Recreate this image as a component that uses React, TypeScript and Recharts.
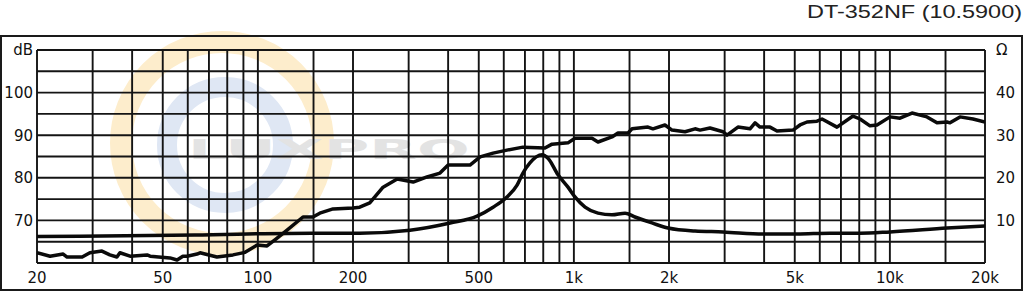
import React from 'react';
import { LineChart, Line, XAxis, YAxis, CartesianGrid } from 'recharts';

// SPL response (left axis, dB)
const splFreq = [20, 22, 24.2, 24.9, 27.8, 29.4, 32.1, 34, 35.8, 36.6, 39.4, 44.6, 45.6, 52.7, 55.5, 57.9, 59.7, 64.2, 65.6, 74.2, 83.4, 91.1, 99.4, 106.9, 114, 123.7, 138.9, 149.4, 157, 172.9, 200, 210, 226, 249, 276, 310, 343, 377, 400, 469, 505, 555, 614, 690, 810, 853, 958, 1008, 1141, 1192, 1320, 1379, 1484, 1528, 1716, 1779, 1942, 2044, 2247, 2418, 2508, 2696, 2965, 3052, 3306, 3609, 3744, 3882, 4174, 4394, 4937, 5196, 5468, 5880, 6100, 6802, 7644, 8044, 8652, 9104, 10012, 10766, 11750, 13106, 14096, 15162, 15498, 16668, 18324, 20000];
const splDb = [62.4, 61.6, 62.1, 61.4, 61.4, 62.4, 62.8, 61.9, 61.4, 62.4, 61.6, 61.9, 61.6, 61.2, 60.7, 61.6, 61.6, 62.1, 62.4, 61.4, 61.9, 62.5, 64.2, 64.0, 65.6, 67.7, 70.8, 70.8, 71.7, 72.7, 72.9, 73.1, 74.1, 77.8, 79.7, 79.0, 80.2, 81.1, 83.0, 83.0, 84.9, 85.8, 86.5, 87.2, 87.0, 87.9, 88.2, 89.3, 89.3, 88.4, 89.6, 90.5, 90.5, 91.5, 91.9, 91.5, 92.4, 91.2, 90.8, 91.5, 91.2, 91.7, 90.8, 90.0, 91.9, 91.5, 92.9, 91.9, 91.9, 91.0, 91.2, 92.4, 93.1, 93.3, 93.8, 91.9, 94.5, 93.8, 92.2, 92.4, 94.3, 94.0, 95.2, 94.3, 92.9, 93.1, 92.9, 94.3, 93.8, 93.1];

// Impedance (right axis, ohm)
const impFreq = [20, 63, 148, 210, 303, 406, 494, 555, 614, 661, 690, 726, 793, 828, 891, 958, 1008, 1085, 1192, 1320, 1452, 1561, 1767, 1985, 2418, 2965, 3969, 5082, 6463, 8044, 10012, 15162, 20000];
const impOhm = [6.2, 6.6, 7.0, 7.0, 7.7, 9.4, 11.0, 13.1, 15.5, 18.3, 21.1, 23.5, 25.4, 24.6, 20.7, 17.8, 15.5, 13.1, 11.7, 11.3, 11.7, 10.8, 9.4, 8.2, 7.5, 7.3, 6.8, 6.8, 7.0, 7.0, 7.3, 8.2, 8.7];

const gridFreqs = [20, 30, 40, 50, 60, 70, 80, 90, 100, 150, 200, 300, 400, 500, 600, 700, 800, 900, 1000, 1500, 2000, 3000, 4000, 5000, 6000, 7000, 8000, 9000, 10000, 15000, 20000];
const freqLabelValues = [20, 50, 100, 200, 500, 1000, 2000, 5000, 10000, 20000];
const freqLabelTexts = ['20', '50', '100', '200', '500', '1k', '2k', '5k', '10k', '20k'];
const dbTicks = [60, 65, 70, 75, 80, 85, 90, 95, 100, 105, 110];
const ohmTicks = [0, 5, 10, 15, 20, 25, 30, 35, 40, 45, 50];
const title = 'DT-352NF (10.5900)';

const splData = splFreq.map((f, i) => ({ f, v: splDb[i] }));
const impData = impFreq.map((f, i) => ({ f, v: impOhm[i] }));

const tickStyle = { fontFamily: '"DejaVu Sans", Verdana, sans-serif', fontSize: 15, fill: '#111' };

const fmtFreq = (v: number) => {
  const i = freqLabelValues.indexOf(v);
  return i >= 0 ? freqLabelTexts[i] : '';
};
const fmtDb = (v: number) => (v === 110 ? 'dB' : v % 10 === 0 && v > 60 ? String(v) : '');
const fmtOhm = (v: number) => (v === 50 ? 'Ω' : v % 10 === 0 && v > 0 ? String(v) : '');

export default function App() {
  return (
    <div style={{ position: 'absolute', left: 0, top: 0, width: 1024, height: 292, background: '#fff', overflow: 'hidden' }}>
      <svg width={1024} height={292} style={{ position: 'absolute', left: 0, top: 0 }}>
        <circle cx={222} cy={143} r={101} fill="none" stroke="#fdedcc" strokeWidth={22} />
        <circle cx={225} cy={145} r={58} fill="none" stroke="#dfe7f4" strokeWidth={20} />
        <text transform="translate(188,159) scale(2.3,1)"
          style={{ fontFamily: '"DejaVu Sans", sans-serif', fontWeight: 'bold', fontSize: 27, fill: '#e3e3e3' }}>LUXPRO</text>
        <rect x={1} y={36} width={1021} height={254} fill="none" stroke="#1a1a1a" strokeWidth={2} />
        <text x={807} y={18} textLength={215} lengthAdjust="spacingAndGlyphs"
          style={{ fontFamily: '"Liberation Sans", Arial, sans-serif', fontSize: 18, fill: '#222' }}>{title}</text>
      </svg>
      <div style={{ position: 'absolute', left: 0, top: 0 }}>
        <LineChart width={1024} height={292} margin={{ top: 50, right: 0, bottom: 0, left: 0 }}>
          <CartesianGrid yAxisId="db" stroke="#141414" strokeWidth={1.9} strokeOpacity={1} />
          <XAxis dataKey="f" type="number" scale="log" domain={[20, 20000]} allowDataOverflow
            ticks={gridFreqs} interval={0} tickFormatter={fmtFreq} height={29}
            axisLine={false} tickLine={false} tickSize={6} tickMargin={3} tick={tickStyle} />
          <YAxis yAxisId="db" orientation="left" domain={[60, 110]} ticks={dbTicks} interval={0}
            tickFormatter={fmtDb} width={37} axisLine={false} tickLine={false} tickSize={2} tickMargin={2} tick={tickStyle} />
          <YAxis yAxisId="ohm" orientation="right" domain={[0, 50]} ticks={ohmTicks} interval={0}
            tickFormatter={fmtOhm} width={39} axisLine={false} tickLine={false} tickSize={6} tickMargin={5} tick={tickStyle} />
          <Line yAxisId="ohm" data={impData} dataKey="v" type="monotone" stroke="#0a0a0a" strokeWidth={3.5}
            dot={false} isAnimationActive={false} strokeLinejoin="round" />
          <Line yAxisId="db" data={splData} dataKey="v" type="linear" stroke="#0a0a0a" strokeWidth={3.5}
            dot={false} isAnimationActive={false} strokeLinejoin="round" />
        </LineChart>
      </div>
    </div>
  );
}
